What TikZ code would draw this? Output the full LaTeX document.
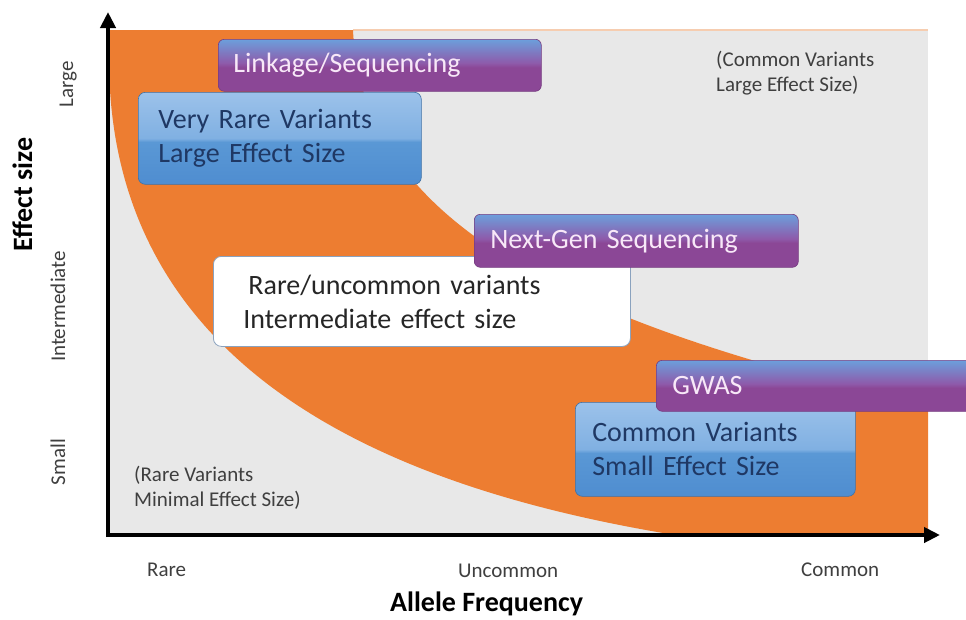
\documentclass[tikz,border=0pt]{standalone}
\usepackage{fontspec}
\setmainfont{Carlito}
\usetikzlibrary{arrows.meta}
\definecolor{bgGrey}{HTML}{E8E8E8}
\definecolor{bandOrange}{HTML}{ED7D31}
\definecolor{peachLine}{HTML}{F6CDB0}
\definecolor{pPurple}{HTML}{8B4796}
\definecolor{pMid}{HTML}{8E5AAA}
\definecolor{pBlue}{HTML}{6C9FDC}
\definecolor{bTop}{HTML}{9CC2EA}
\definecolor{bHi}{HTML}{80B0E2}
\definecolor{bLow}{HTML}{5A98D5}
\definecolor{bBot}{HTML}{4F8DD0}
\definecolor{navyText}{HTML}{1F3864}
\definecolor{pinkText}{HTML}{F8E8F8}
\definecolor{labelGrey}{HTML}{3F3F3F}
\definecolor{whiteEdge}{HTML}{8AA2BE}
\pgfdeclareverticalshading{purpleshade}{100bp}{color(0bp)=(pPurple); color(25bp)=(pPurple); color(48bp)=(pPurple); color(52bp)=(pMid); color(75bp)=(pBlue); color(100bp)=(pBlue)}
\pgfdeclareverticalshading{blueshade}{100bp}{color(0bp)=(bBot); color(25bp)=(bBot); color(48bp)=(bLow); color(50bp)=(bHi); color(75bp)=(bTop); color(100bp)=(bTop)}
\tikzset{
  methodbox/.style={rectangle, rounded corners=6pt, shading=purpleshade, draw=pPurple!85!black, line width=0.6pt,
    text=pinkText, font=\fontsize{28}{34}\selectfont, anchor=north west, align=left, inner ysep=0pt},
  variantbox/.style={rectangle, rounded corners=7pt, shading=blueshade, draw=bBot!80!black, line width=0.6pt,
    text=navyText, font=\fontsize{28}{34}\selectfont, anchor=north west, align=left, inner ysep=0pt},
  plainbox/.style={rectangle, rounded corners=8pt, fill=white, draw=whiteEdge, line width=0.8pt,
    text=black!85, font=\fontsize{28}{34}\selectfont, anchor=north west, align=left, inner ysep=0pt},
  cornerlabel/.style={text=labelGrey, font=\fontsize{21}{25}\selectfont, align=left, inner sep=0pt, anchor=north west},
  ticklabel/.style={text=labelGrey, font=\fontsize{21}{25}\selectfont, inner sep=0pt},
  axistitle/.style={text=black, font=\fontsize{28}{34}\selectfont\bfseries, inner sep=0pt},
  axisline/.style={line width=4pt, -{Triangle[length=16pt,width=15pt]}}
}
\begin{document}
\begin{tikzpicture}[x=1pt,y=-1pt]
\useasboundingbox (0,0) rectangle (966,619);
\clip (0,0) rectangle (966,619);
% background field
\fill[bgGrey] (110,30) rectangle (928,535);
\draw[peachLine, line width=1.5pt] (353,30) -- (928,30);
% orange band
\fill[bandOrange] (110,30) -- (353,30)
  .. controls (362,235) and (600,330) .. (928,406)
  -- (928,535) -- (675,535)
  .. controls (400,490) and (128,380) .. (110,90) -- cycle;
% corner notes
\node[cornerlabel] (cvlarge) at (716,51) {(Common Variants\\Large Effect Size)};
\node[cornerlabel] (rvmin) at (134,466) {(Rare Variants\\Minimal Effect Size)};
% boxes
\node[methodbox, minimum width=323pt, minimum height=52pt, inner xsep=15pt, text width=293pt] (link) at (218,39) {Linkage/Sequencing};
\node[variantbox, minimum width=283pt, minimum height=92pt, inner xsep=20pt, text width=243pt] (veryrare) at (138,92) {Very Rare Variants\\Large Effect Size};
\node[plainbox, minimum width=417pt, minimum height=90pt, inner xsep=30pt, text width=357pt] (rareunc) at (213,256) {\hspace*{5pt}Rare/uncommon variants\\Intermediate effect size};
\node[methodbox, minimum width=324pt, minimum height=53pt, inner xsep=16pt, text width=292pt] (ngs) at (474,214) {Next-Gen Sequencing};
\node[variantbox, minimum width=280pt, minimum height=94pt, inner xsep=17pt, text width=246pt] (common) at (575,402) {Common Variants\\Small Effect Size};
\node[methodbox, minimum width=340pt, minimum height=51pt, inner xsep=16pt, text width=308pt] (gwas) at (656,360) {GWAS};
% axes
\coordinate (origin) at (108,535);
\coordinate (ytip) at (108,12);
\coordinate (xtip) at (940,535);
\coordinate (ystart) at (108,537);
\coordinate (xstart) at (106,535);
\draw[axisline] (ystart) -- (ytip);
\draw[axisline] (xstart) -- (xtip);
% tick labels
\node[ticklabel, anchor=base west] (trare) at (147,576) {Rare};
\node[ticklabel, anchor=base west] (tunc) at (458,577) {Uncommon};
\node[ticklabel, anchor=base west] (tcom) at (801,576) {Common};
\node[ticklabel, anchor=base, rotate=90] (tlarge) at (73,84.5) {Large};
\node[ticklabel, anchor=base, rotate=90] (tint) at (65,306.5) {Intermediate};
\node[ticklabel, anchor=base, rotate=90] (tsmall) at (65,462) {Small};
% axis titles
\node[axistitle, anchor=base west] (xtitle) at (390,611) {Allele Frequency};
\node[axistitle, anchor=base, rotate=90] (ytitle) at (32,194.5) {Effect size};
\end{tikzpicture}
\end{document}
